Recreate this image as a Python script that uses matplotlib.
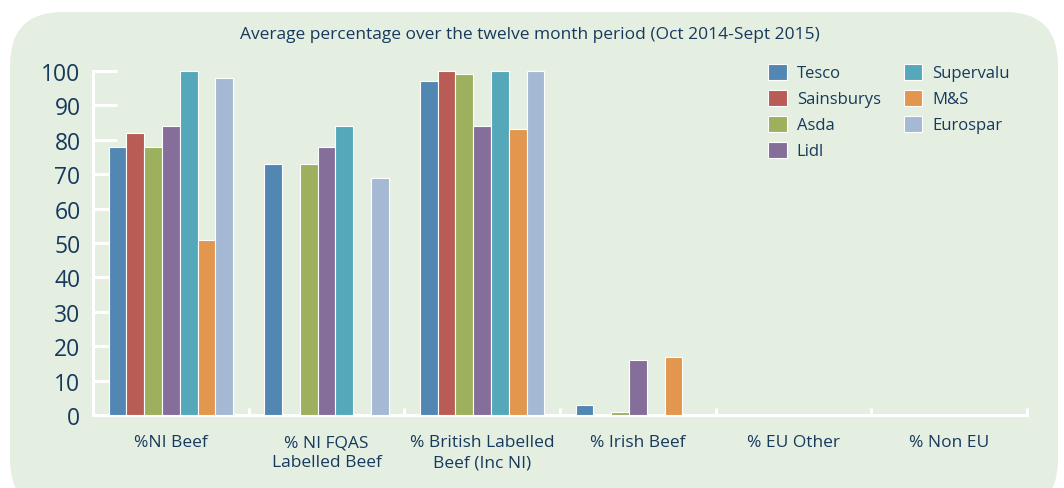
import numpy as np
import matplotlib.pyplot as plt
from matplotlib.patches import FancyBboxPatch

# categories and series
categories = ['%NI Beef', '% NI FQAS\nLabelled Beef', '% British Labelled\nBeef (Inc NI)',
              '% Irish Beef', '% EU Other', '% Non EU']
stores = ['Tesco', 'Sainsburys', 'Asda', 'Lidl', 'Supervalu', 'M&S', 'Eurospar']
tesco = [78, 73, 97, 3, 0, 0]
sainsburys = [82, 0, 100, 0, 0, 0]
asda = [78, 73, 99, 1, 0, 0]
lidl = [84, 78, 84, 16, 0, 0]
supervalu = [100, 84, 100, 0, 0, 0]
ms = [51, 0, 83, 17, 0, 0]
eurospar = [98, 69, 100, 0, 0, 0]
series = [tesco, sainsburys, asda, lidl, supervalu, ms, eurospar]
colors = ['#5387B3', '#B85C55', '#9DB05E', '#856E9A', '#55A8BA', '#E3964E', '#A5B9D5']

plt.rcParams['font.family'] = ['Open Sans', 'DejaVu Sans']
text_col = '#17395C'
bg = '#E4EFE2'

fig = plt.figure(figsize=(10.64, 4.89), dpi=100)
fig.patch.set_facecolor('white')

# rounded green panel behind everything
panel = FancyBboxPatch((10 / 1064, -0.05), 1048 / 1064, 1.05 - 13 / 489,
                       boxstyle='round,pad=0,rounding_size=0.05',
                       transform=fig.transFigure, facecolor=bg, edgecolor='none',
                       mutation_aspect=1064 / 489, zorder=-5)
fig.patches.append(panel)

ax = fig.add_axes([93 / 1064, 1 - 416 / 489, (1027 - 93) / 1064, (416 - 72) / 489])
ax.set_facecolor('none')

x = np.arange(len(categories))
n = len(stores)
w = 0.8 / n
for i, (name, vals, c) in enumerate(zip(stores, series, colors)):
    ax.bar(x - 0.4 + w * (i + 0.5), vals, width=w, color=c, edgecolor='white',
           linewidth=0.8, label=name, zorder=3, clip_on=False)

ax.set_xlim(-0.5, len(categories) - 0.5)
ax.set_ylim(0, 100)
ax.set_yticks(range(0, 101, 10))
ax.set_xticks(x)
ax.set_xticklabels(categories, fontsize=12.5, color=text_col, linespacing=1.3)
ax.set_xticks(np.arange(0.5, len(categories), 1), minor=True)

for s in ['top', 'right']:
    ax.spines[s].set_visible(False)
for s in ['left', 'bottom']:
    ax.spines[s].set_color('white')
    ax.spines[s].set_linewidth(2.2)
    ax.spines[s].set_zorder(2)

ax.tick_params(axis='y', direction='in', length=17, width=2.2, color='white',
               labelsize=16.5, labelcolor=text_col, pad=9)
ax.tick_params(axis='x', which='major', length=0, pad=14)
ax.tick_params(axis='x', which='minor', direction='in', length=5, width=2.2, color='white')

fig.text(530 / 1064, 1 - 35 / 489,
         'Average percentage over the twelve month period (Oct 2014-Sept 2015)',
         ha='center', va='center', fontsize=12.5, color=text_col)

leg = ax.legend(ncol=2, loc='upper left', bbox_to_anchor=(0.707, 1.065), frameon=False,
                fontsize=12, handlelength=1.1, handleheight=1.1, handletextpad=0.6,
                columnspacing=1.4, labelspacing=0.5)
for t in leg.get_texts():
    t.set_color(text_col)

fig.savefig('out.png', dpi=100)
